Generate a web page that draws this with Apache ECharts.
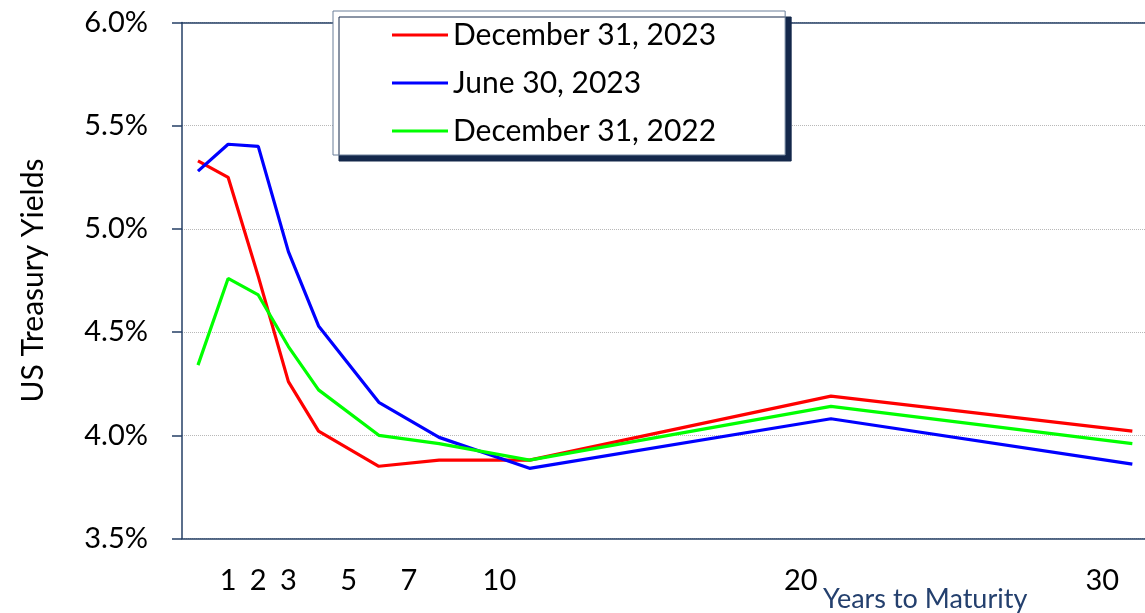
<!DOCTYPE html>
<html>
<head>
<meta charset="utf-8">
<script src="https://cdn.jsdelivr.net/npm/echarts@6/dist/echarts.min.js"></script>
<style>
html,body{margin:0;padding:0;background:#fff;}
#chart{width:1145px;height:613px;}
</style>
</head>
<body>
<div id="chart"></div>
<script>
// Plotted position of each maturity bucket on the years axis (3m, 6m, 1y, 2y, 3y, 5y, 7y, 10y, 20y, 30y)
const plotPos = [0, 1, 2, 3, 4, 6, 8, 11, 21, 31];
const seriesNames = ['December 31, 2023', 'June 30, 2023', 'December 31, 2022'];
const dec2023 = [5.33, 5.25, 4.77, 4.26, 4.02, 3.85, 3.88, 3.88, 4.19, 4.02];
const jun2023 = [5.28, 5.41, 5.40, 4.89, 4.53, 4.16, 3.99, 3.84, 4.08, 3.86];
const dec2022 = [4.34, 4.76, 4.68, 4.43, 4.22, 4.00, 3.96, 3.88, 4.14, 3.96];
const xTickLabels = [1, 2, 3, 5, 7, 10, 20, 30];

const colors = ['#FF0000', '#0000FF', '#00FF00'];
const values = [dec2023, jun2023, dec2022];
const FONT = 'Lato';
const NAVY = '#243F66';

const chart = echarts.init(document.getElementById('chart'));
chart.setOption({
  animation: false,
  backgroundColor: '#ffffff',
  grid: {left: 182, right: 0, top: 22.5, bottom: 74.5, containLabel: false},
  legend: {
    data: seriesNames,
    orient: 'vertical',
    left: 333,
    top: 11,
    padding: [9, 69, 9, 59],
    itemGap: 18,
    itemWidth: 56,
    itemHeight: 3,
    icon: 'rect',
    backgroundColor: '#ffffff',
    borderColor: '#6B7E99',
    borderWidth: 1,
    shadowColor: '#14284B',
    shadowBlur: 0,
    shadowOffsetX: 6,
    shadowOffsetY: 6,
    textStyle: {fontFamily: FONT, fontSize: 30, color: '#000', lineHeight: 30}
  },
  xAxis: [{
    type: 'value',
    min: -0.53,
    max: 31.42,
    axisLine: {show: true, onZero: false, lineStyle: {color: NAVY, width: 1.5}},
    axisTick: {show: false},
    splitLine: {show: false},
    axisLabel: {
      customValues: xTickLabels,
      fontFamily: FONT, fontSize: 29, color: '#000', margin: 28,
      formatter: v => String(v)
    }
  }, {
    type: 'value',
    position: 'top',
    min: -0.53,
    max: 31.42,
    axisLine: {show: true, onZero: false, lineStyle: {color: NAVY, width: 1.5}},
    axisTick: {show: false},
    axisLabel: {show: false},
    splitLine: {show: false}
  }],
  yAxis: {
    type: 'value',
    min: 3.5,
    max: 6.0,
    interval: 0.5,
    name: 'US Treasury Yields',
    nameLocation: 'middle',
    nameRotate: 90,
    nameGap: 134,
    nameTextStyle: {fontFamily: FONT, fontSize: 30, color: '#000'},
    axisLine: {show: true, onZero: false, lineStyle: {color: NAVY, width: 1.5}},
    axisTick: {show: true, inside: false, length: 10, lineStyle: {color: NAVY, width: 1.5}},
    splitLine: {show: true, lineStyle: {color: '#B8B8B8', type: 'dotted', width: 1}},
    axisLabel: {
      fontFamily: FONT, fontSize: 29, color: '#000', margin: 34,
      formatter: v => v.toFixed(1) + '%'
    }
  },
  graphic: [{
    type: 'text',
    left: 823,
    top: 586,
    style: {text: 'Years to Maturity', font: '27px Lato', fill: '#24406E'}
  }],
  series: values.map((vals, i) => ({
    name: seriesNames[i],
    type: 'line',
    xAxisIndex: 0,
    data: plotPos.map((p, j) => [p, vals[j]]),
    showSymbol: false,
    symbol: 'none',
    lineStyle: {color: colors[i], width: 3.2},
    itemStyle: {color: colors[i]},
    z: 2 + i
  }))
});
</script>
</body>
</html>
